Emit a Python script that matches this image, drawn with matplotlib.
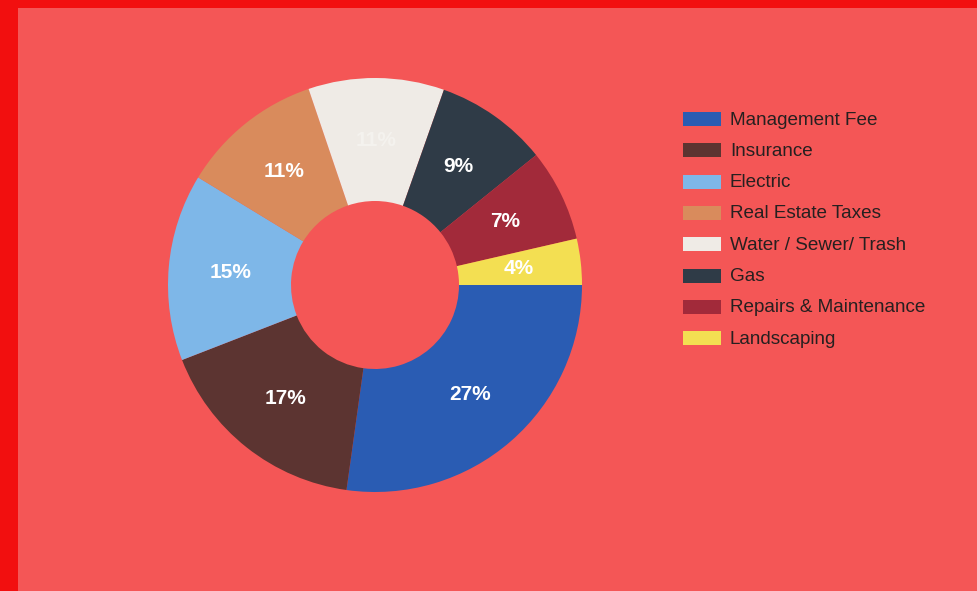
import matplotlib.pyplot as plt
from matplotlib.patches import Rectangle

categories = ["Management Fee", "Insurance", "Electric", "Real Estate Taxes",
              "Water / Sewer/ Trash", "Gas", "Repairs & Maintenance", "Landscaping"]
shares = [27.2, 16.9, 14.6, 11.1, 10.6, 8.8, 7.2, 3.6]
colors = ["#2a5cb3", "#5c3431", "#7eb7e8", "#d98b5c", "#efebe6",
          "#2f3b47", "#a22a3a", "#f3df52"]

W, H = 978, 591
bg_outer = "#f20f0f"
bg_inner = "#f45656"

fig = plt.figure(figsize=(W / 100, H / 100), dpi=100, facecolor=bg_outer)
fig.patches.append(Rectangle((18 / W, 0), 1 - 18 / W, 1 - 8 / H,
                             transform=fig.transFigure, facecolor=bg_inner,
                             edgecolor="none", zorder=-10))

# donut
cx, cy, r = 375, 285, 207
ax = fig.add_axes([(cx - r) / W, (H - cy - r) / H, 2 * r / W, 2 * r / H])
ax.set_facecolor("none")
ax.set_zorder(5)
wedges, texts, autotexts = ax.pie(
    shares, colors=colors, startangle=0, counterclock=False,
    autopct="%.0f%%", pctdistance=0.70, radius=1,
    wedgeprops=dict(width=1 - 84 / 207, edgecolor="none"),
    textprops=dict(color="white", fontsize=15, fontweight="bold",
                   family="Liberation Sans"))
# white label on the near-white slice barely shows
autotexts[4].set_color("#f4f2ee")
ax.set_xlim(-1, 1)
ax.set_ylim(-1, 1)
ax.set_aspect("auto")
ax.axis("off")

# legend
x_box, y_first, step = 683, 119, 31.3
for i, (name, col) in enumerate(zip(categories, colors)):
    yc = y_first + i * step
    fig.patches.append(Rectangle((x_box / W, (H - yc - 7) / H), 38 / W, 14 / H,
                                 transform=fig.transFigure, facecolor=col,
                                 edgecolor="none"))
    fig.text(730 / W, (H - yc - 1) / H, name, va="center", ha="left",
             fontsize=13.6, color="#262020", family="Liberation Sans")

fig.savefig("out.png", dpi=100, facecolor=fig.get_facecolor())
